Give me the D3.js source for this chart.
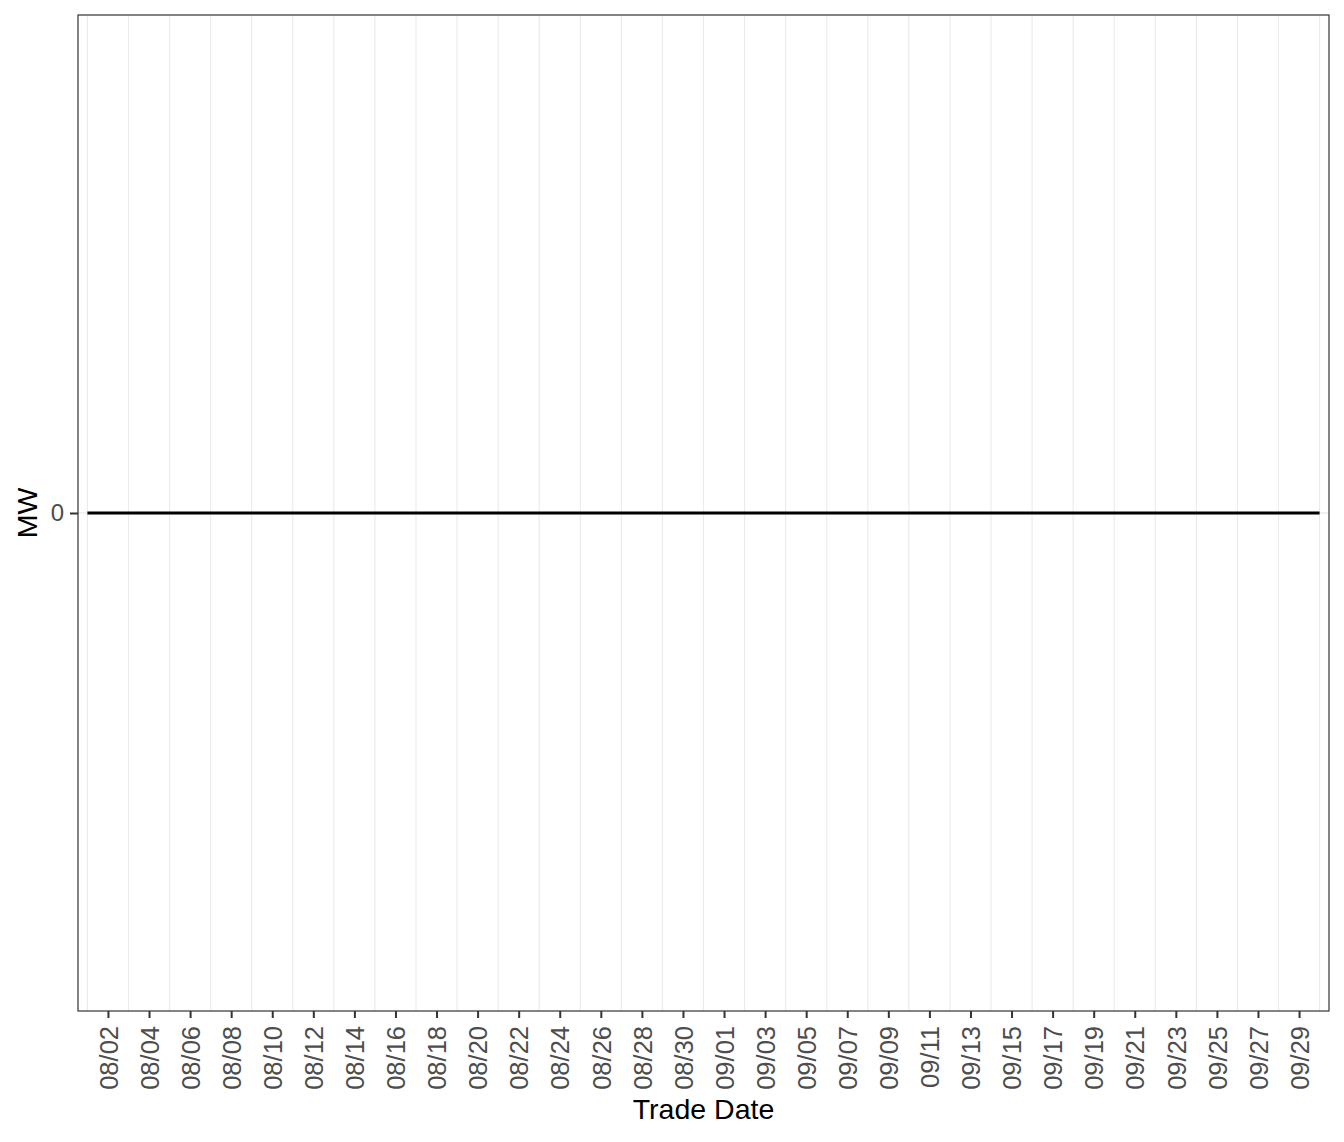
<!DOCTYPE html>
<html lang="en">
  <head>
    <meta charset="UTF-8" />
    <title>MW by Trade Date</title>
    <script src="https://d3js.org/d3.v7.min.js"></script>
    <style>
      body {
        margin: 0;
        background: #fff;
        font-family: 'Liberation Sans', Arial, sans-serif;
      }
      svg {
        display: block;
      }
    </style>
  </head>
  <body>
    <svg width="1344" height="1142"></svg>

    <script>
      // trade dates (2 months, daily)
      const dates = [
        '08/01', '08/02', '08/03', '08/04', '08/05', '08/06', '08/07', '08/08',
        '08/09', '08/10', '08/11', '08/12', '08/13', '08/14', '08/15', '08/16',
        '08/17', '08/18', '08/19', '08/20', '08/21', '08/22', '08/23', '08/24',
        '08/25', '08/26', '08/27', '08/28', '08/29', '08/30', '08/31', '09/01',
        '09/02', '09/03', '09/04', '09/05', '09/06', '09/07', '09/08', '09/09',
        '09/10', '09/11', '09/12', '09/13', '09/14', '09/15', '09/16', '09/17',
        '09/18', '09/19', '09/20', '09/21', '09/22', '09/23', '09/24', '09/25',
        '09/26', '09/27', '09/28', '09/29', '09/30',
      ];
      // MW per day (flat at zero)
      const mw = [
        0, 0, 0, 0, 0, 0, 0, 0, 0, 0, 0, 0, 0, 0, 0, 0, 0, 0, 0, 0, 0, 0, 0, 0,
        0, 0, 0, 0, 0, 0, 0, 0, 0, 0, 0, 0, 0, 0, 0, 0, 0, 0, 0, 0, 0, 0, 0, 0,
        0, 0, 0, 0, 0, 0, 0, 0, 0, 0, 0, 0, 0,
      ];
      const xTickLabels = [
        '08/02', '08/04', '08/06', '08/08', '08/10', '08/12', '08/14', '08/16',
        '08/18', '08/20', '08/22', '08/24', '08/26', '08/28', '08/30', '09/01',
        '09/03', '09/05', '09/07', '09/09', '09/11', '09/13', '09/15', '09/17',
        '09/19', '09/21', '09/23', '09/25', '09/27', '09/29',
      ];
      const yTicks = [0];
      const yTickLabels = ['0'];

      const parse = d3.timeParse('%Y/%m/%d');
      const toDate = (s) => parse('2023/' + s);
      const fmt = d3.timeFormat('%m/%d');

      const data = dates.map((d, i) => ({ date: toDate(d), value: mw[i] }));

      const svg = d3.select('svg');
      const panelL = 78,
        panelR = 1329,
        panelT = 15,
        panelB = 1011;

      // a little padding either side of the data range
      const x = d3
        .scaleTime()
        .domain([
          d3.timeHour.offset(data[0].date, -11),
          d3.timeHour.offset(data[data.length - 1].date, 11.7),
        ])
        .range([panelL, panelR]);

      const y = d3.scaleLinear().domain([-0.05, 0.05]).range([panelB, panelT]);

      const tickDates = xTickLabels.map(toDate);
      // minor grid: halfway between the labelled days
      const minorDates = tickDates
        .map((d) => d3.timeDay.offset(d, -1))
        .concat([d3.timeDay.offset(tickDates[tickDates.length - 1], 1)]);

      // grid
      svg
        .append('g')
        .selectAll('line')
        .data(minorDates)
        .enter()
        .append('line')
        .attr('x1', (d) => x(d))
        .attr('x2', (d) => x(d))
        .attr('y1', panelT)
        .attr('y2', panelB)
        .attr('stroke', '#ebebeb')
        .attr('stroke-width', 1.1);

      svg
        .append('g')
        .selectAll('line')
        .data(yTicks)
        .enter()
        .append('line')
        .attr('x1', panelL)
        .attr('x2', panelR)
        .attr('y1', (d) => y(d))
        .attr('y2', (d) => y(d))
        .attr('stroke', '#ebebeb')
        .attr('stroke-width', 1.5);

      // line
      svg
        .append('path')
        .datum(data)
        .attr('fill', 'none')
        .attr('stroke', '#000')
        .attr('stroke-width', 2.8)
        .attr(
          'd',
          d3
            .line()
            .x((d) => x(d.date))
            .y((d) => y(d.value)),
        );

      // panel border
      svg
        .append('rect')
        .attr('x', panelL)
        .attr('y', panelT)
        .attr('width', panelR - panelL)
        .attr('height', panelB - panelT)
        .attr('fill', 'none')
        .attr('stroke', '#333')
        .attr('stroke-width', 1.2);

      // x axis
      const xAxis = svg
        .append('g')
        .attr('transform', `translate(0,${panelB})`)
        .call(
          d3
            .axisBottom(x)
            .tickValues(tickDates)
            .tickFormat(fmt)
            .tickSize(7)
            .tickPadding(0),
        );
      xAxis.select('.domain').remove();
      xAxis.selectAll('.tick line').attr('stroke', '#333').attr('stroke-width', 2);
      xAxis
        .selectAll('.tick text')
        .attr('transform', 'rotate(-90)')
        .attr('x', -15)
        .attr('y', 0)
        .attr('dy', '0.36em')
        .attr('text-anchor', 'end')
        .attr('fill', '#4d4d4d')
        .style('font-size', '25.5px')
        .style('font-family', "'Liberation Sans', Arial, sans-serif");

      // y axis
      const yAxis = svg
        .append('g')
        .attr('transform', `translate(${panelL},0)`)
        .call(
          d3
            .axisLeft(y)
            .tickValues(yTicks)
            .tickFormat((d, i) => yTickLabels[i])
            .tickSize(8)
            .tickPadding(6),
        );
      yAxis.select('.domain').remove();
      yAxis.selectAll('.tick line').attr('stroke', '#333').attr('stroke-width', 2);
      yAxis
        .selectAll('.tick text')
        .attr('fill', '#4d4d4d')
        .style('font-size', '24px')
        .style('font-family', "'Liberation Sans', Arial, sans-serif");

      // axis titles
      svg
        .append('text')
        .attr('x', (panelL + panelR) / 2)
        .attr('y', 1119)
        .attr('text-anchor', 'middle')
        .style('font-size', '28.5px')
        .text('Trade Date');

      svg
        .append('text')
        .attr('transform', 'rotate(-90)')
        .attr('x', -(panelT + panelB) / 2)
        .attr('y', 37)
        .attr('text-anchor', 'middle')
        .style('font-size', '28.5px')
        .text('MW');
    </script>
  </body>
</html>
